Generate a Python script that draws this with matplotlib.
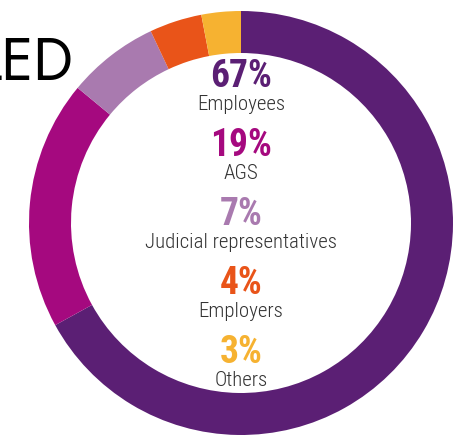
import matplotlib
matplotlib.use("Agg")
import matplotlib.pyplot as plt
from matplotlib import font_manager

# share of cases by who filed them
groups = ["Employees", "AGS", "Judicial representatives", "Employers", "Others"]
shares = [67, 19, 7, 4, 3]
colours = ["#5B1F74", "#A5097F", "#A97AAF", "#E95419", "#F6B231"]

W, H = 465, 439


def first_font(names):
    have = {f.name for f in font_manager.fontManager.ttflist}
    for n in names:
        if n in have:
            return n
    return "DejaVu Sans"


narrow = first_font(["Roboto Condensed", "Archivo Narrow", "Barlow Condensed",
                     "PT Sans Narrow", "Liberation Sans Narrow", "Roboto"])
heading = first_font(["Jost", "Questrial", "Didact Gothic", "Montserrat", "Lato"])

fig = plt.figure(figsize=(W / 100, H / 100), dpi=100)
ax = fig.add_axes([0, 0, 1, 1])

# donut, clockwise from 12 o'clock
ax.pie(shares, colors=colours, startangle=90, counterclock=False,
       radius=212, center=(241, H - 224),
       wedgeprops=dict(width=42, linewidth=0))

ax.set_xlim(0, W)
ax.set_ylim(0, H)
ax.set_aspect("equal")
ax.set_axis_off()

# stacked labels inside the ring (baselines, px from top)
top, step = 87, 69
for i, (g, v, c) in enumerate(zip(groups, shares, colours)):
    y = H - (top + i * step)
    ax.text(241, y, f"{v}%", color=c, fontsize=27, fontweight="bold",
            family=narrow, ha="center", va="baseline")
    ax.text(241, y - 23, g, color="#333333", fontsize=15, fontweight="light",
            family=narrow, ha="center", va="baseline")

# tail of the heading running in from the left
ax.text(73, H - 80, "LED", color="black", fontsize=42, family=heading,
        ha="right", va="baseline")

fig.savefig("out.png", dpi=100)
